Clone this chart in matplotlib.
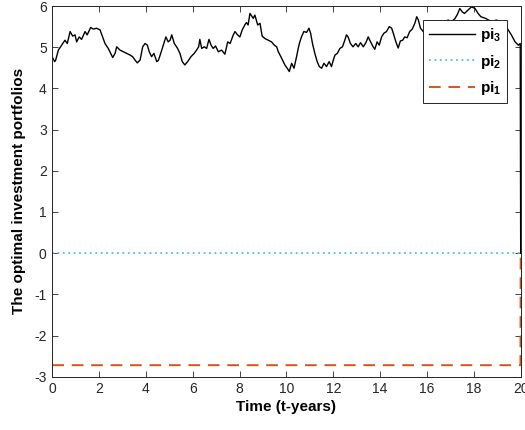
import matplotlib
matplotlib.use("Agg")
import matplotlib.pyplot as plt

plt.rcParams['font.family'] = ['Liberation Sans', 'DejaVu Sans']
plt.rcParams['mathtext.fontset'] = 'custom'
plt.rcParams['mathtext.bf'] = 'Liberation Sans:bold'
plt.rcParams['mathtext.rm'] = 'Liberation Sans'
plt.rcParams['axes.unicode_minus'] = False

# pi_3 path (time in years, value)
t3 = [0.00, 0.10, 0.14, 0.26, 0.40, 0.54, 0.64, 0.76, 0.87, 0.97, 1.04, 1.15, 1.25, 1.40, 1.49,
      1.64, 1.75, 1.89, 2.04, 2.15, 2.25, 2.39, 2.46, 2.58, 2.68, 2.75, 2.89, 3.03, 3.18, 3.32,
      3.43, 3.53, 3.63, 3.75, 3.86, 3.96, 4.06, 4.14, 4.24, 4.34, 4.46, 4.53, 4.63, 4.74, 4.85,
      4.95, 5.03, 5.10, 5.21, 5.35, 5.45, 5.55, 5.66, 5.78, 5.92, 6.06, 6.16, 6.25, 6.30, 6.38,
      6.49, 6.59, 6.69, 6.78, 6.87, 6.97, 7.09, 7.23, 7.37, 7.49, 7.59, 7.73, 7.80, 7.91, 8.01,
      8.11, 8.22, 8.29, 8.36, 8.44, 8.51, 8.58, 8.65, 8.77, 8.87, 8.96, 9.08, 9.22, 9.36, 9.48,
      9.58, 9.65, 9.76, 9.86, 9.93, 10.03, 10.12, 10.22, 10.32, 10.43, 10.50, 10.57, 10.64, 10.74,
      10.86, 10.96, 11.03, 11.11, 11.21, 11.31, 11.40, 11.50, 11.60, 11.71, 11.82, 11.92, 12.00,
      12.07, 12.17, 12.28, 12.39, 12.49, 12.56, 12.63, 12.73, 12.84, 12.96, 13.06, 13.16, 13.28,
      13.39, 13.49, 13.59, 13.70, 13.77, 13.87, 13.96, 14.06, 14.16, 14.27, 14.39, 14.49, 14.56,
      14.67, 14.77, 14.86, 14.96, 15.05, 15.15, 15.26, 15.37, 15.48, 15.56, 15.63, 15.72, 15.84,
      15.95, 16.05, 16.15, 16.30, 16.45, 16.60, 16.75, 16.90, 17.05, 17.20, 17.30, 17.40, 17.50,
      17.60, 17.75, 17.90, 18.05, 18.18, 18.30, 18.50, 18.75, 18.97, 19.15, 19.30, 19.42, 19.60,
      19.76, 19.90, 19.98, 20.00]
pi3 = [4.76, 4.65, 4.68, 4.93, 5.05, 5.17, 5.09, 5.38, 5.27, 5.30, 5.13, 5.25, 5.19, 5.38, 5.30,
       5.48, 5.44, 5.46, 5.42, 5.25, 5.09, 4.97, 4.89, 4.75, 4.85, 5.01, 4.93, 4.89, 4.85, 4.81,
       4.77, 4.69, 4.62, 4.69, 5.01, 5.09, 5.05, 4.89, 4.77, 4.85, 4.65, 4.68, 4.85, 5.05, 5.25,
       5.13, 5.17, 5.30, 5.09, 4.97, 4.85, 4.65, 4.57, 4.65, 4.77, 4.85, 4.93, 5.01, 5.19, 4.97,
       5.01, 4.97, 5.19, 5.05, 4.97, 5.03, 4.89, 4.93, 4.83, 5.13, 5.09, 5.30, 5.38, 5.30, 5.25,
       5.42, 5.54, 5.60, 5.54, 5.82, 5.76, 5.70, 5.78, 5.54, 5.58, 5.27, 5.21, 5.17, 5.13, 5.05,
       5.01, 4.89, 4.77, 4.65, 4.57, 4.49, 4.41, 4.61, 4.49, 4.77, 4.97, 5.13, 5.25, 5.38,
       5.36, 5.46, 5.34, 5.09, 4.85, 4.65, 4.53, 4.49, 4.61, 4.53, 4.65, 4.53, 4.69,
       4.81, 4.85, 4.97, 5.01, 5.17, 5.30, 5.25, 5.09, 5.01, 5.09, 5.01, 5.11, 5.01,
       5.11, 5.25, 5.13, 5.01, 4.95, 5.13, 5.05, 5.25, 5.34, 5.38, 5.50, 5.46, 5.34,
       5.13, 4.98, 5.15, 5.17, 5.25, 5.23, 5.38, 5.44, 5.58, 5.74, 5.66, 5.46, 5.38,
       5.25, 5.09, 5.05, 5.15, 5.30, 5.45, 5.60, 5.66, 5.62, 5.70, 5.80, 5.94, 5.86,
       5.82, 5.90, 5.98, 5.94, 5.82, 5.74, 5.70, 5.62, 5.66, 5.60, 5.50, 5.46, 5.30,
       5.13, 5.05, 5.09, 0.00]

t2 = [0, 20]
pi2 = [0, 0]

t1 = [0, 19.99, 20]
pi1 = [-2.72, -2.72, 0]

fig = plt.figure(figsize=(5.25, 4.3), dpi=100)
ax = fig.add_axes([0.0996, 0.1239, 0.8922, 0.8621])

ax.plot(t3, pi3, color='black', lw=1.0, label=r'$\mathbf{pi_3}$')
ax.plot(t2, pi2, color='#4DBEEE', lw=1.3, ls=(0, (1, 2)), label=r'$\mathbf{pi_2}$')
ax.plot(t1, pi1, color='#D95319', lw=1.4, ls=(0, (6, 4)), label=r'$\mathbf{pi_1}$')

ax.set_xlim(0, 20)
ax.set_ylim(-3, 6)
ax.set_xticks(range(0, 21, 2))
ax.set_yticks(range(-3, 7))
ax.tick_params(direction='in', top=True, right=True, length=4, width=0.6,
               labelsize=10, colors='#262626', pad=4)
for s in ax.spines.values():
    s.set_color('#262626')
    s.set_linewidth(0.7)

ax.set_xlabel('Time (t-years)', fontsize=11, fontweight='bold', labelpad=3)
ax.set_ylabel('The optimal investment portfolios', fontsize=11, fontweight='bold', labelpad=6)

leg = ax.legend(loc='upper right', bbox_to_anchor=(0.971, 0.962), fontsize=11,
                fancybox=False, framealpha=1, edgecolor='#262626', handlelength=3.0,
                handletextpad=0.3, labelspacing=0.55, borderpad=0.4, borderaxespad=0)
leg.get_frame().set_linewidth(0.7)

fig.savefig('out.png', dpi=100)
